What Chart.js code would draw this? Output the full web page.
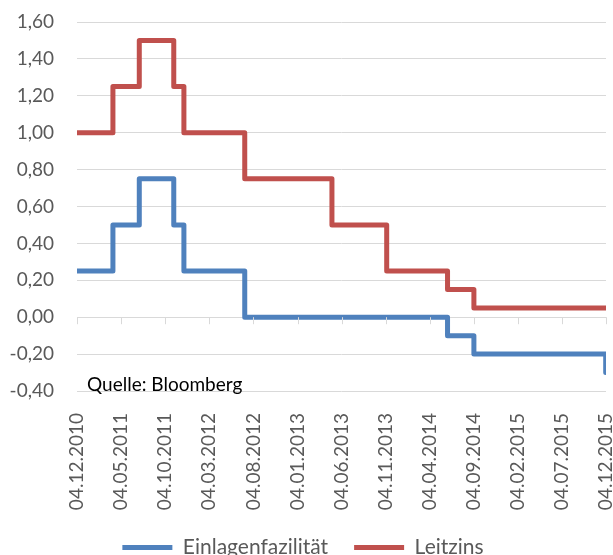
<!DOCTYPE html>
<html>
<head>
<meta charset="utf-8">
<script src="https://cdn.jsdelivr.net/npm/chart.js@4"></script>
<style>
html,body{margin:0;padding:0;background:#fff;}
#wrap{width:613px;height:555px;}
</style>
</head>
<body>
<div id="wrap"><canvas id="c"></canvas></div>
<script>
// Dates of rate changes (dd.mm.yyyy) and the rate valid from that date
const changeDates = ['04.12.2010','07.04.2011','07.07.2011','03.11.2011','08.12.2011','05.07.2012','02.05.2013','07.11.2013','05.06.2014','04.09.2014','03.12.2015','04.12.2015'];
const einlagenfazilitaet = [0.25, 0.50, 0.75, 0.50, 0.25, 0.00, 0.00, 0.00, -0.10, -0.20, -0.30, -0.30];
const leitzins = [1.00, 1.25, 1.50, 1.25, 1.00, 0.75, 0.50, 0.25, 0.15, 0.05, 0.05, 0.05];
const tickLabels = ['04.12.2010','04.05.2011','04.10.2011','04.03.2012','04.08.2012','04.01.2013','04.06.2013','04.11.2013','04.04.2014','04.09.2014','04.02.2015','04.07.2015','04.12.2015'];
const seriesNames = ['Einlagenfazilität', 'Leitzins'];
const sourceText = 'Quelle: Bloomberg';

const FONT = 'Lato, "Open Sans", sans-serif';
function toDay(s) {
  const [d, m, y] = s.split('.').map(Number);
  const base = tickLabels[0].split('.').map(Number);
  return Math.round((Date.UTC(y, m - 1, d) - Date.UTC(base[2], base[1] - 1, base[0])) / 86400000);
}
const tickDays = tickLabels.map(toDay);
const toPoints = vals => changeDates.map((d, i) => ({x: toDay(d), y: vals[i]}));

const extras = {
  id: 'extras',
  afterDatasetsDraw(chart) {
    const {ctx, chartArea, scales} = chart;
    const y0 = scales.y.getPixelForValue(0);
    ctx.save();
    ctx.strokeStyle = '#d9d9d9';
    ctx.lineWidth = 1;
    ctx.beginPath();
    tickDays.forEach(v => {
      const x = Math.round(scales.x.getPixelForValue(v)) + 0.5;
      ctx.moveTo(x, y0);
      ctx.lineTo(x, y0 + 7);
    });
    ctx.stroke();
    ctx.fillStyle = '#000';
    ctx.font = '19px ' + FONT;
    ctx.textBaseline = 'alphabetic';
    ctx.textAlign = 'left';
    ctx.fillText(sourceText, chartArea.left + 10, chartArea.bottom);
    ctx.restore();
  }
};

new Chart(document.getElementById('c'), {
  type: 'line',
  data: {
    datasets: [
      {label: seriesNames[0], data: toPoints(einlagenfazilitaet), borderColor: '#4F81BD', backgroundColor: '#4F81BD', borderWidth: 5, stepped: 'before', pointRadius: 0, borderJoinStyle: 'round'},
      {label: seriesNames[1], data: toPoints(leitzins), borderColor: '#C0504D', backgroundColor: '#C0504D', borderWidth: 5, stepped: 'before', pointRadius: 0, borderJoinStyle: 'round'}
    ]
  },
  options: {
    responsive: true,
    maintainAspectRatio: false,
    animation: false,
    layout: {padding: {top: 22, right: 7, left: 0, bottom: -13}},
    plugins: {
      legend: {
        position: 'bottom',
        labels: {
          usePointStyle: true,
          pointStyle: 'line',
          pointStyleWidth: 50,
          color: '#595959',
          font: {family: FONT, size: 21},
          padding: 26
        }
      },
      tooltip: {enabled: false}
    },
    scales: {
      x: {
        type: 'linear',
        min: 0,
        max: toDay(tickLabels[tickLabels.length - 1]),
        grid: {display: false},
        border: {display: false},
        afterBuildTicks(scale) { scale.ticks = tickDays.map(v => ({value: v})); },
        afterFit(scale) { scale.height = 120; scale.paddingLeft = 0; scale.paddingRight = 0; },
        ticks: {
          autoSkip: false,
          minRotation: 90,
          maxRotation: 90,
          padding: 14,
          color: '#595959',
          font: {family: FONT, size: 19},
          callback: (v) => { const i = tickDays.indexOf(v); return i >= 0 ? tickLabels[i] : ''; }
        }
      },
      y: {
        min: -0.4,
        max: 1.6,
        afterFit(scale) { scale.width = 77; scale.paddingTop = 0; scale.paddingBottom = 0; },
        grid: {color: '#d9d9d9', drawTicks: false, lineWidth: 1},
        border: {display: false},
        ticks: {
          stepSize: 0.2,
          padding: 23,
          color: '#595959',
          font: {family: FONT, size: 19},
          callback: v => v.toFixed(2).replace('.', ',')
        }
      }
    }
  },
  plugins: [extras]
});
</script>
</body>
</html>
